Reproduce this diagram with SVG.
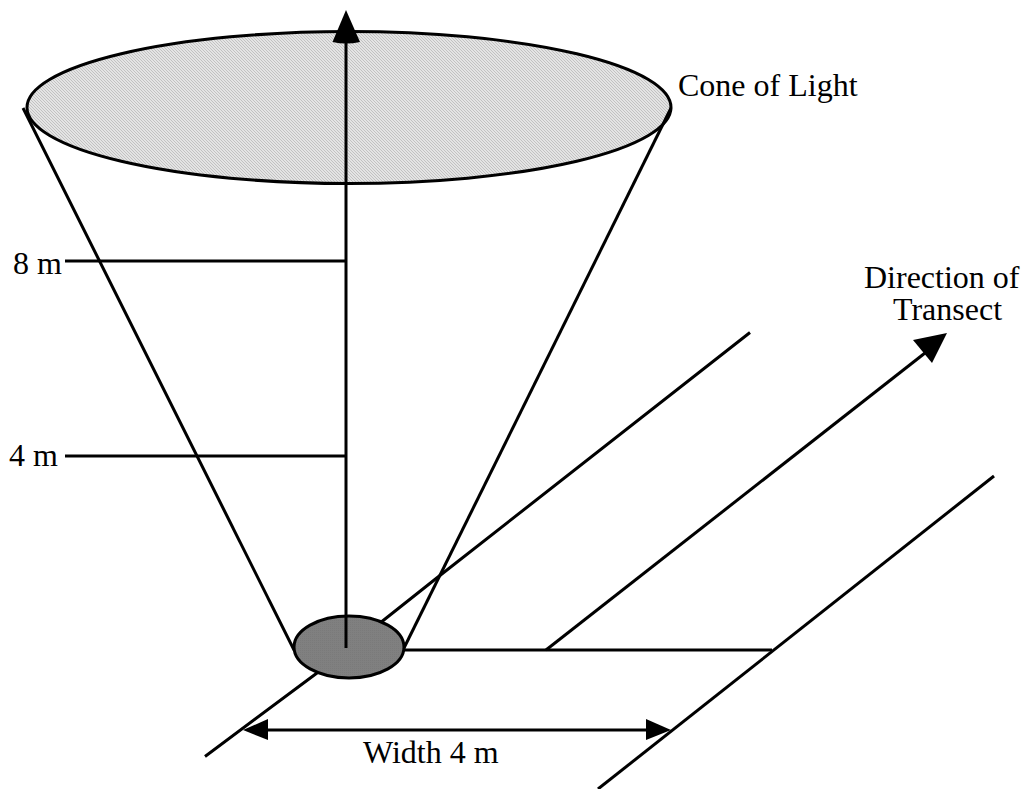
<svg xmlns="http://www.w3.org/2000/svg" width="1023" height="789" viewBox="0 0 1023 789">
<style>
.l{stroke:#000;stroke-width:3;fill:none}
.h{fill:#000;stroke:none}
.e{stroke:#000;stroke-width:3}
text{font-family:"Liberation Serif","Times New Roman",serif;font-size:32px;fill:#000}
</style>
<defs>
<pattern id="light" width="3" height="3" patternUnits="userSpaceOnUse">
<rect width="3" height="3" fill="#e4e4e4"/>
<path d="M-1 2L1 4M0 0L3 3M2 -1L4 1" stroke="#c2c2c2" stroke-width="1"/>
</pattern>
<pattern id="dark" width="2" height="2" patternUnits="userSpaceOnUse">
<rect width="2" height="2" fill="#808080"/>
<rect width="1" height="1" fill="#7a7a7a"/>
</pattern>
</defs>
<rect width="1023" height="789" fill="#fff"/>
<g id="light-cone-top"><ellipse class="e" cx="349" cy="107.500" rx="322" ry="76" fill="url(#light)"/></g>
<g id="connectors">
<path class="l" d="M23 108L294 650"/>
<path class="l" d="M671 108L404 648"/>
<path class="l" d="M205 756.500L317 673L438 577L750 332.500"/>
<path class="l" d="M598 789L994 476"/>
<path class="l" d="M404 650H772"/>
<path class="l" d="M546 650L925 353"/>
<path class="l" d="M65 261H346"/>
<path class="l" d="M65 456H346"/>
<path class="l" d="M262 730H652"/>
</g>
<g id="observer"><ellipse class="e" cx="349" cy="647" rx="55" ry="31" fill="url(#dark)"/></g>
<g id="axis">
<path class="l" d="M346 648V40"/>
<path class="h" d="M346 10L332.500 42Q346 45 360 42Z"/>
</g>
<g id="arrowheads">
<path class="h" d="M947 333L913 340L932 363Z"/>
<path class="h" d="M243 730L268 719V740Z"/>
<path class="h" d="M671 730L646 719V740Z"/>
</g>
<g id="labels">
<text x="678" y="96">Cone of Light</text>
<text x="13" y="274">8 m</text>
<text x="9" y="466">4 m</text>
<text x="864" y="288">Direction of</text>
<text x="893" y="320">Transect</text>
<text x="363" y="763">Width 4 m</text>
</g>
</svg>
